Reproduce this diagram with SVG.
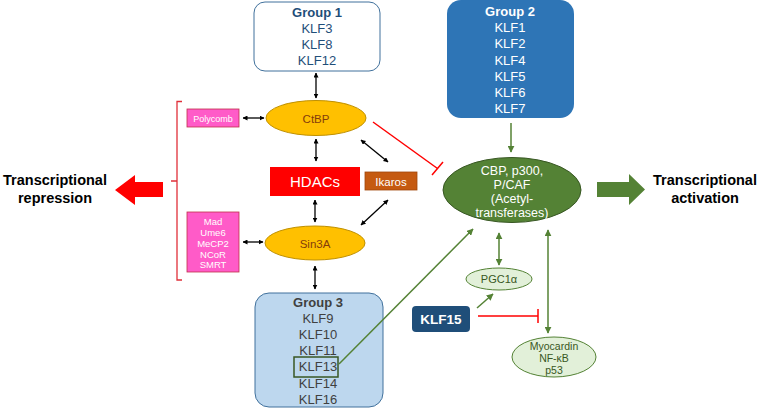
<svg xmlns="http://www.w3.org/2000/svg" width="759" height="408" viewBox="0 0 759 408">
<defs>
<style>
text{font-family:"Liberation Sans",Arial,sans-serif;text-anchor:middle}
.blk{stroke:#000;stroke-width:1.3;fill:none;marker-start:url(#ab);marker-end:url(#ab)}
.grn{stroke:#548235;stroke-width:1.5;fill:none}
.red{stroke:#FF0000;stroke-width:1.5;fill:none}
.g1{fill:#1F4E79;font-size:13px}
.g2{fill:#fff;font-size:13px}
.g3{fill:#404040;font-size:13px}
.pk{fill:#fff;font-size:9.5px}
.lt{fill:#385723;font-size:10.5px}
.big{fill:#000;font-size:14.5px;font-weight:bold}
.cb{fill:#fff;font-size:12.5px}
</style>
<marker id="ab" viewBox="0 0 10 10" refX="9" refY="5" markerWidth="5" markerHeight="5" orient="auto-start-reverse" markerUnits="userSpaceOnUse"><path d="M0,0 L10,5 L0,10 z" fill="#000"/></marker>
<marker id="ag" viewBox="0 0 10 10" refX="9" refY="5" markerWidth="7" markerHeight="7" orient="auto-start-reverse" markerUnits="userSpaceOnUse"><path d="M0,0 L10,5 L0,10 z" fill="#548235"/></marker>
</defs>

<g id="repression">
<path d="M163,182 H135 V175 L115,190 L135,205 V197 H163 Z" fill="#FF0000"/>
<text class="big" x="55" y="185">Transcriptional</text>
<text class="big" x="55" y="203">repression</text>
</g>

<g id="activation">
<path d="M597,182 H629 V174 L645,189.5 L629,205 V197 H597 Z" fill="#548235"/>
<text class="big" x="705" y="185">Transcriptional</text>
<text class="big" x="705" y="203">activation</text>
</g>

<g id="group1">
<rect x="254" y="2" width="126" height="69" rx="11" fill="#fff" stroke="#41719C" stroke-width="1"/>
<text class="g1" x="317" y="17" font-weight="bold">Group 1</text>
<text class="g1" x="317" y="33">KLF3</text>
<text class="g1" x="317" y="49">KLF8</text>
<text class="g1" x="317" y="65">KLF12</text>
</g>

<g id="group2">
<rect x="447" y="0" width="127" height="118" rx="14" fill="#2E75B6"/>
<text class="g2" x="510" y="16" font-weight="bold">Group 2</text>
<text class="g2" x="510" y="32">KLF1</text>
<text class="g2" x="510" y="48">KLF2</text>
<text class="g2" x="510" y="65">KLF4</text>
<text class="g2" x="510" y="81">KLF5</text>
<text class="g2" x="510" y="97">KLF6</text>
<text class="g2" x="510" y="113">KLF7</text>
</g>

<g id="group3">
<rect x="255" y="293" width="128" height="114" rx="14" fill="#BDD7EE" stroke="#41719C" stroke-width="1"/>
<text class="g3" x="318" y="307" font-weight="bold">Group 3</text>
<text class="g3" x="318" y="323">KLF9</text>
<text class="g3" x="318" y="339">KLF10</text>
<text class="g3" x="318" y="355">KLF11</text>
<text class="g3" x="318" y="371">KLF13</text>
<text class="g3" x="318" y="388">KLF14</text>
<text class="g3" x="318" y="404">KLF16</text>
<rect x="294" y="357" width="44" height="20" fill="none" stroke="#385723" stroke-width="1.5"/>
</g>

<g id="ctbp">
<ellipse cx="316" cy="118" rx="50" ry="17.5" fill="#FFC000" stroke="#BF9000" stroke-width="1"/>
<text x="316" y="122.5" fill="#843C0C" font-size="11.5">CtBP</text>
</g>

<g id="sin3a">
<ellipse cx="315" cy="243" rx="50" ry="17" fill="#FFC000" stroke="#BF9000" stroke-width="1"/>
<text x="315" y="247.5" fill="#843C0C" font-size="11.5">Sin3A</text>
</g>

<g id="hdacs">
<rect x="270" y="167" width="90" height="29" fill="#FF0000"/>
<text x="315" y="187" fill="#fff" font-size="15">HDACs</text>
</g>

<g id="ikaros">
<rect x="365" y="172" width="52" height="18" fill="#C55A11" stroke="#A0460A" stroke-width="0.8"/>
<text x="391" y="185.5" fill="#fff" font-size="11.5">Ikaros</text>
</g>

<g id="polycomb">
<rect x="187" y="109" width="52" height="18" fill="#FF5BC8" stroke="#C0304A" stroke-width="0.8"/>
<text x="213" y="121.5" fill="#fff" font-size="9">Polycomb</text>
</g>

<g id="corepressors">
<rect x="187" y="212" width="52" height="60" fill="#FF5BC8" stroke="#C0304A" stroke-width="0.8"/>
<text class="pk" x="213" y="224.5">Mad</text>
<text class="pk" x="213" y="235.5">Ume6</text>
<text class="pk" x="213" y="246.5">MeCP2</text>
<text class="pk" x="213" y="257.5">NCoR</text>
<text class="pk" x="213" y="268">SMRT</text>
</g>

<g id="cbp">
<ellipse cx="512" cy="190" rx="69" ry="32.5" fill="#548235" stroke="#385723" stroke-width="1"/>
<text class="cb" x="512" y="175">CBP, p300,</text>
<text class="cb" x="512" y="189">P/CAF</text>
<text class="cb" x="512" y="203">(Acetyl-</text>
<text class="cb" x="512" y="217">transferases)</text>
</g>

<g id="pgc1a">
<ellipse cx="499" cy="279" rx="33" ry="11" fill="#E2F0D9" stroke="#548235" stroke-width="1"/>
<text x="499" y="283" fill="#385723" font-size="11">PGC1α</text>
</g>

<g id="myocardin">
<ellipse cx="554" cy="357" rx="42" ry="20" fill="#E2F0D9" stroke="#548235" stroke-width="1"/>
<text class="lt" x="554" y="349.5">Myocardin</text>
<text class="lt" x="554" y="361.5">NF-κB</text>
<text class="lt" x="554" y="374">p53</text>
</g>

<g id="klf15">
<rect x="412" y="306" width="58" height="26" rx="4" fill="#1F4E79"/>
<text x="441" y="323.5" fill="#fff" font-size="13.5" font-weight="bold">KLF15</text>
</g>

<g id="connectors">
<line class="blk" x1="316" y1="73" x2="316" y2="98"/>
<line class="blk" x1="316" y1="139" x2="316" y2="161"/>
<line class="blk" x1="315" y1="200" x2="315" y2="222"/>
<line class="blk" x1="315" y1="266" x2="315" y2="289"/>
<line class="blk" x1="243" y1="118" x2="264" y2="118"/>
<line class="blk" x1="243" y1="242" x2="263" y2="242"/>
<line class="blk" x1="361" y1="140" x2="388" y2="162"/>
<line class="blk" x1="361" y1="225" x2="388" y2="200"/>
<line class="grn" x1="511" y1="123" x2="511" y2="152" marker-end="url(#ag)" stroke-width="2"/>
<line class="grn" x1="339" y1="364" x2="473" y2="229" marker-end="url(#ag)" stroke-width="2.2"/>
<line class="grn" x1="499" y1="233" x2="499" y2="265" marker-start="url(#ag)" marker-end="url(#ag)"/>
<line class="grn" x1="548" y1="230" x2="548" y2="333" marker-start="url(#ag)" marker-end="url(#ag)"/>
<line class="grn" x1="477" y1="308" x2="493" y2="294" marker-end="url(#ag)" stroke-width="2.5"/>
<line class="red" x1="373" y1="122" x2="437.5" y2="168.5"/>
<line class="red" x1="432" y1="175" x2="443" y2="162"/>
<line class="red" x1="478" y1="316" x2="538" y2="316"/>
<line class="red" x1="538" y1="309" x2="538" y2="323"/>
<path d="M182,101.5 H177 V280 H182 M177,181 H171" stroke="#E0303A" stroke-width="1.3" fill="none"/>
</g>
</svg>
